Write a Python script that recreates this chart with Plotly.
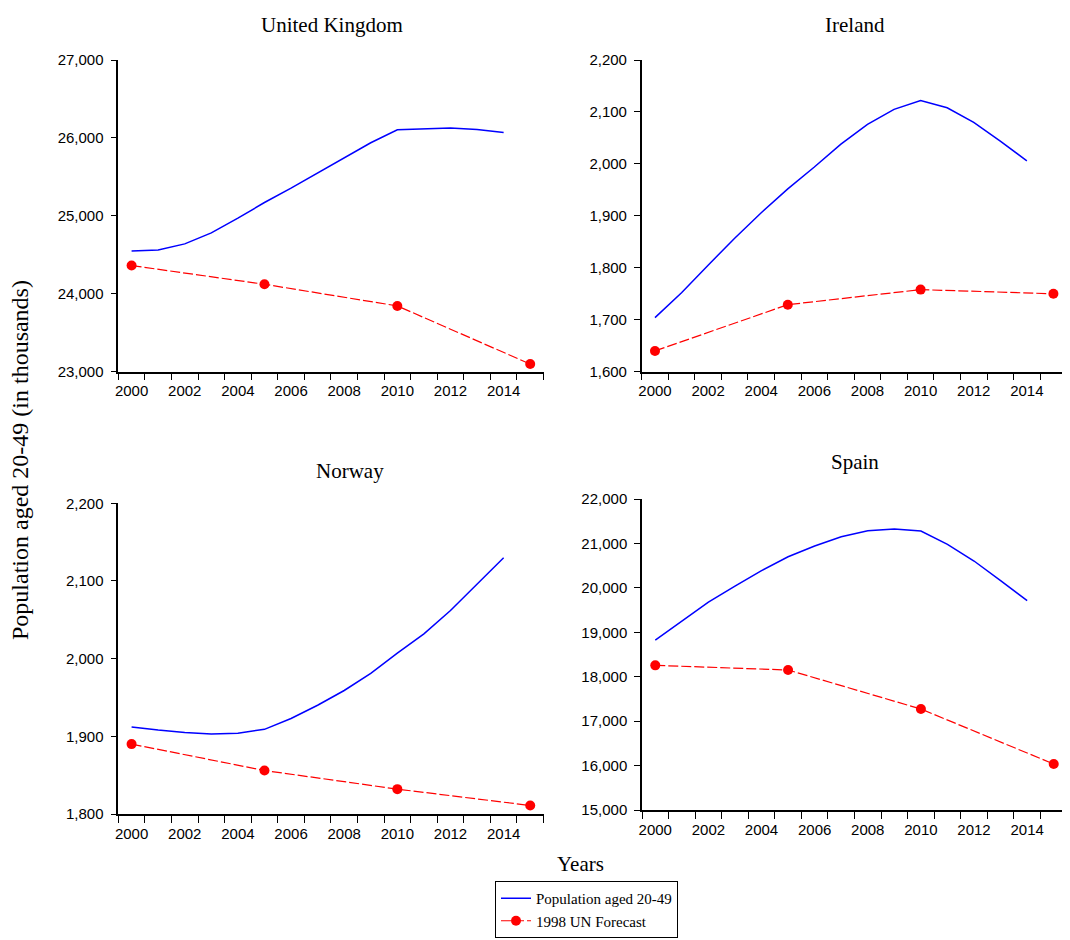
import plotly.graph_objects as go

# ---------------- data ----------------
years = list(range(2000, 2015))            # annual population series
forecast_years = [2000, 2005, 2010, 2015]  # UN forecast points

uk_pop = [24550, 24563, 24640, 24782, 24970, 25171, 25355, 25552, 25749, 25938,
          26105, 26118, 26126, 26109, 26071]
uk_fc = [24362, 24122, 23844, 23098]

ie_pop = [1704, 1752, 1805, 1857, 1906, 1952, 1994, 2038, 2076, 2105,
          2122, 2108, 2080, 2044, 2006]
ie_fc = [1640, 1729, 1758, 1750]

no_pop = [1912, 1908, 1905, 1903, 1904, 1909, 1923, 1940, 1959, 1981,
          2007, 2032, 2062, 2096, 2130]
no_fc = [1890, 1856, 1832, 1811]

es_pop = [18826, 19261, 19680, 20041, 20386, 20700, 20941, 21151, 21286, 21324,
          21279, 20979, 20604, 20161, 19711]
es_fc = [18256, 18151, 17273, 16035]

panels = [
    ("United Kingdom", uk_pop, uk_fc, [23000, 27000], 1000),
    ("Ireland", ie_pop, ie_fc, [1600, 2200], 100),
    ("Norway", no_pop, no_fc, [1800, 2200], 100),
    ("Spain", es_pop, es_fc, [15000, 22000], 1000),
]
x_tick_labels = [2000, 2002, 2004, 2006, 2008, 2010, 2012, 2014]

# ---------------- layout helpers ----------------
W, H = 1070, 940
OFF = 8  # page body margin in the browser
def px(x):
    return (x - OFF) / W
def py(y):
    return 1 - (y - OFF) / H

# plot boxes in screen pixels: (left, right, top, bottom)
boxes = [
    (118.3, 543.5, 60, 371.7),
    (641.7, 1066.7, 60, 371.7),
    (118.3, 543.5, 503.3, 814),
    (642, 1067, 499, 810),
]
title_pos = [(332, 25), (855, 25), (350, 471), (855, 462)]

SERIF = "Liberation Serif, Times New Roman, serif"
SANS = "Liberation Sans, Arial, sans-serif"

fig = go.Figure()
layout = dict(
    width=W, height=H,
    margin=dict(l=0, r=0, t=0, b=0, pad=0, autoexpand=False),
    plot_bgcolor="white", paper_bgcolor="white",
    showlegend=True,
)
annotations = []

for i, (name, pop, fc, yr, dt) in enumerate(panels):
    n = i + 1
    xa = "x" if n == 1 else f"x{n}"
    ya = "y" if n == 1 else f"y{n}"
    fig.add_trace(go.Scatter(
        x=years, y=pop, xaxis=xa, yaxis=ya, mode="lines",
        line=dict(color="#0000ff", width=1.5),
        name="Population aged 20-49", showlegend=(n == 1),
        cliponaxis=False,
    ))
    fig.add_trace(go.Scatter(
        x=forecast_years, y=fc, xaxis=xa, yaxis=ya, mode="lines+markers",
        line=dict(color="#ff0000", width=1.2, dash="10px,3px"),
        marker=dict(color="#ff0000", size=10),
        name="1998 UN Forecast", showlegend=(n == 1),
        cliponaxis=False,
    ))
    l, r, t, b = boxes[i]
    key_x = "xaxis" if n == 1 else f"xaxis{n}"
    key_y = "yaxis" if n == 1 else f"yaxis{n}"
    layout[key_x] = dict(
        domain=[px(l), px(r)], anchor=ya, range=[1999.5, 2015.5],
        tickvals=x_tick_labels, ticktext=[str(v) for v in x_tick_labels],
        ticks="", showgrid=False, zeroline=False,
        showline=True, linecolor="black", linewidth=1.5,
        tickfont=dict(family=SANS, size=15, color="black"),
        ticklabelstandoff=5,
        minor=dict(tick0=1999.5, dtick=1, ticks="outside", ticklen=7,
                   tickwidth=1, tickcolor="black", showgrid=False),
        automargin=False, fixedrange=True,
    )
    layout[key_y] = dict(
        domain=[py(b), py(t)], anchor=xa, range=yr, dtick=dt, tick0=yr[0],
        tickformat=",", ticks="outside", ticklen=6, tickwidth=1, tickcolor="black",
        showgrid=False, zeroline=False,
        showline=True, linecolor="black", linewidth=1.5,
        tickfont=dict(family=SANS, size=15, color="black"),
        ticklabelstandoff=4,
        automargin=False, fixedrange=True,
    )
    tx, ty = title_pos[i]
    annotations.append(dict(
        text=name, x=px(tx), y=py(ty), xref="paper", yref="paper",
        showarrow=False, xanchor="center", yanchor="middle",
        font=dict(family=SERIF, size=21, color="black"),
    ))

annotations.append(dict(
    text="Population aged 20-49 (in thousands)", x=px(20), y=py(460),
    xref="paper", yref="paper", showarrow=False, textangle=-90,
    xanchor="center", yanchor="middle",
    font=dict(family=SERIF, size=24, color="black"),
))
annotations.append(dict(
    text="Years", x=px(580), y=py(864), xref="paper", yref="paper",
    showarrow=False, xanchor="center", yanchor="middle",
    font=dict(family=SERIF, size=21, color="black"),
))

layout["annotations"] = annotations
layout["legend"] = dict(
    x=px(495), y=py(881), xanchor="left", yanchor="top",
    bordercolor="black", borderwidth=1, bgcolor="white",
    font=dict(family=SERIF, size=15, color="black"),
    tracegroupgap=0, itemwidth=30,
)
fig.update_layout(**layout)
fig.write_html("out.html")
